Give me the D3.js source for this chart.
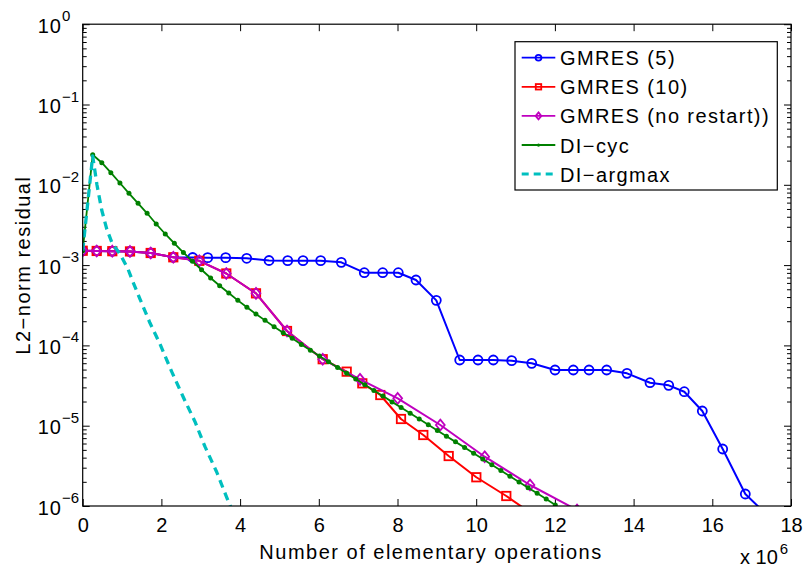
<!DOCTYPE html>
<html>
<head>
<meta charset="utf-8">
<script src="https://cdn.jsdelivr.net/npm/d3@7"></script>
<style>
  html, body { margin: 0; padding: 0; background: #fff; }
  svg { display: block; font-family: "Liberation Sans", Arial, sans-serif; }
</style>
</head>
<body>
<svg id="chart" width="805" height="571"></svg>
<script>
// ---------------- DATA (x in units of 10^6 operations) ----------------
const seriesNames = ["GMRES (5)", "GMRES (10)", "GMRES (no restart))", "DI\u2212cyc", "DI\u2212argmax"];
const seriesColors = ["#0000ff", "#ff0000", "#bf00bf", "#008000", "#00bfbf"];

const gm5X = [0, 0.356, 0.752, 1.202, 1.728, 2.302, 2.795, 3.177, 3.634, 4.168, 4.735, 5.210, 5.599, 6.048,
  6.572, 7.156, 7.624, 8.020, 8.470, 8.986, 9.581, 10.046, 10.435, 10.902, 11.411, 12.003, 12.468, 12.867,
  13.316, 13.832, 14.417, 14.892, 15.288, 15.746, 16.264, 16.839, 17.416];
const gm5Y = [1.51e-3, 1.50e-3, 1.49e-3, 1.48e-3, 1.415e-3, 1.251e-3, 1.244e-3, 1.238e-3, 1.238e-3, 1.216e-3,
  1.141e-3, 1.135e-3, 1.135e-3, 1.135e-3, 1.083e-3, 8.04e-4, 8.04e-4, 8.04e-4, 6.52e-4, 3.64e-4, 6.58e-5,
  6.58e-5, 6.58e-5, 6.45e-5, 5.98e-5, 4.94e-5, 4.94e-5, 4.94e-5, 4.94e-5, 4.49e-5, 3.43e-5, 3.18e-5,
  2.65e-5, 1.524e-5, 5.13e-6, 1.41e-6, 7.51e-7];

const gm10X = [0, 0.356, 0.752, 1.202, 1.728, 2.302, 2.963, 3.649, 4.404, 5.192, 6.099,
  6.709, 7.106, 7.563, 8.089, 8.656, 9.301, 10.003, 10.765, 11.571];
const gm10Y = [1.51e-3, 1.50e-3, 1.49e-3, 1.48e-3, 1.415e-3, 1.251e-3, 1.131e-3, 7.86e-4, 4.45e-4, 1.511e-4, 6.73e-5,
  4.71e-5, 3.37e-5, 2.41e-5, 1.212e-5, 7.66e-6, 4.19e-6, 2.28e-6, 1.332e-6, 7.09e-7];

const gmnrX = [0, 0.356, 0.752, 1.202, 1.728, 2.302, 2.963, 3.649, 4.404, 5.192, 6.099,
  7.047, 8.005, 9.088, 10.216, 11.367, 12.562];
const gmnrY = [1.51e-3, 1.50e-3, 1.49e-3, 1.48e-3, 1.415e-3, 1.251e-3, 1.131e-3, 7.86e-4, 4.45e-4, 1.511e-4, 6.73e-5,
  3.78e-5, 2.19e-5, 1.02e-5, 4.11e-6, 1.826e-6, 8.92e-7];

const dicycX = [0, 0.254, 0.485, 0.715, 0.946, 1.176, 1.407, 1.637, 1.868, 2.098, 2.329, 2.559, 2.790, 3.020,
  3.251, 3.481, 3.712, 3.942, 4.173, 4.403, 4.634, 4.864, 5.095, 5.325, 5.556, 5.786, 6.017, 6.247, 6.478,
  6.708, 6.939, 7.169, 7.400, 7.630, 7.861, 8.091, 8.322, 8.552, 8.783, 9.013, 9.244, 9.474, 9.705, 9.935,
  10.166, 10.396, 10.627, 10.857, 11.088, 11.318, 11.549, 11.779, 12.010];
const dicycY = [1.51e-3, 0.0237, 0.01884, 0.01415, 0.01053, 7.83e-3, 5.88e-3, 4.42e-3, 3.25e-3, 2.44e-3, 1.87e-3,
  1.435e-3, 1.115e-3, 8.76e-4, 6.91e-4, 5.54e-4, 4.49e-4, 3.64e-4, 2.98e-4, 2.46e-4, 2.05e-4, 1.71e-4,
  1.44e-4, 1.226e-4, 1.026e-4, 8.69e-5, 7.38e-5, 6.27e-5, 5.31e-5, 4.51e-5, 3.82e-5, 3.24e-5, 2.75e-5,
  2.34e-5, 1.98e-5, 1.68e-5, 1.43e-5, 1.21e-5, 1.03e-5, 8.73e-6, 7.41e-6, 6.29e-6, 5.34e-6, 4.53e-6,
  3.84e-6, 3.26e-6, 2.77e-6, 2.35e-6, 1.99e-6, 1.69e-6, 1.44e-6, 1.22e-6, 1.03e-6];

const diargX = [0, 0.254, 0.363, 0.483, 0.610, 0.745, 0.948, 1.151, 1.278, 1.456, 1.710, 1.964, 2.262, 2.557,
  2.854, 3.108, 3.405, 3.659, 3.794];
const diargY = [1.51e-3, 0.02284, 9.94e-3, 4.86e-3, 2.82e-3, 1.885e-3, 1.374e-3, 8.94e-4, 6.16e-4, 3.78e-4,
  1.90e-4, 1.041e-4, 4.71e-5, 2.26e-5, 1.121e-5, 5.48e-6, 2.65e-6, 1.283e-6, 8.92e-7];

const xTicks = [0, 2, 4, 6, 8, 10, 12, 14, 16, 18];
const yTickExps = [0, -1, -2, -3, -4, -5, -6];
const xLabel = "Number of elementary operations";
const yLabel = "L2\u2212norm residual";

// ---------------- CHART ----------------
const svg = d3.select("#chart");
const L = 82.7, R = 791, T = 24.2, B = 506;
const x = d3.scaleLinear().domain([0, 18]).range([L, R]);
const y = d3.scaleLog().domain([1e-6, 1]).range([B, T]);

const minorVals = [];
for (let e = -6; e < 0; e++) for (let m = 2; m <= 9; m++) minorVals.push(m * Math.pow(10, e));
const majorVals = yTickExps.map(e => Math.pow(10, e));

svg.append("defs").append("clipPath").attr("id", "clip")
  .append("rect").attr("x", L).attr("y", T).attr("width", R - L).attr("height", B - T);

function styleAxis(g) {
  g.select(".domain").remove();
  g.selectAll(".tick line").attr("stroke", "#000").attr("stroke-width", 1);
  g.selectAll("text").attr("fill", "#000");
}

svg.append("g").attr("transform", `translate(0,${B})`)
  .call(d3.axisBottom(x).tickValues(xTicks).tickFormat(d3.format("d")).tickSizeInner(-7).tickSizeOuter(0).tickPadding(12))
  .call(styleAxis)
  .selectAll("text").attr("font-size", 20).attr("font-family", "Liberation Sans, Arial, sans-serif");
svg.append("g").attr("transform", `translate(0,${T})`)
  .call(d3.axisTop(x).tickValues(xTicks).tickFormat("").tickSizeInner(-7).tickSizeOuter(0))
  .call(styleAxis);
svg.append("g").attr("transform", `translate(${L},0)`)
  .call(d3.axisLeft(y).tickValues(majorVals).tickFormat("").tickSizeInner(-7).tickSizeOuter(0))
  .call(styleAxis);
svg.append("g").attr("transform", `translate(${L},0)`)
  .call(d3.axisLeft(y).tickValues(minorVals).tickFormat("").tickSizeInner(-4).tickSizeOuter(0))
  .call(styleAxis);
svg.append("g").attr("transform", `translate(${R},0)`)
  .call(d3.axisRight(y).tickValues(majorVals).tickFormat("").tickSizeInner(-7).tickSizeOuter(0))
  .call(styleAxis);
svg.append("g").attr("transform", `translate(${R},0)`)
  .call(d3.axisRight(y).tickValues(minorVals).tickFormat("").tickSizeInner(-4).tickSizeOuter(0))
  .call(styleAxis);

const yl = svg.append("g").attr("font-size", 20).attr("fill", "#000");
yTickExps.forEach(e => {
  const t = yl.append("text").attr("x", 37.7).attr("y", y(Math.pow(10, e)) + 8.5).attr("letter-spacing", 1);
  t.append("tspan").text("10");
  t.append("tspan").attr("dy", -11.5).attr("font-size", 15).attr("letter-spacing", 0)
    .text(e === 0 ? "0" : "\u2212" + Math.abs(e));
});

svg.append("text").attr("x", 431).attr("y", 559).attr("text-anchor", "middle")
  .attr("font-size", 20).attr("letter-spacing", 1.5).text(xLabel);
svg.append("text").attr("transform", `translate(30,${(T + B) / 2}) rotate(-90)`).attr("text-anchor", "middle")
  .attr("font-size", 20).attr("letter-spacing", 1.5).text(yLabel);
const xm = svg.append("text").attr("x", 740).attr("y", 564).attr("font-size", 20);
xm.append("tspan").text("x 10");
xm.append("tspan").attr("dy", -10).attr("dx", 2).attr("font-size", 15).text("6");

// ---------------- SERIES ----------------
const series = [
  { xs: gm5X, ys: gm5Y, marker: "circle", width: 2 },
  { xs: gm10X, ys: gm10Y, marker: "square", width: 2 },
  { xs: gmnrX, ys: gmnrY, marker: "diamond", width: 2 },
  { xs: dicycX, ys: dicycY, marker: "dot", width: 1.8 },
  { xs: diargX, ys: diargY, marker: null, width: 3.3, dash: "8,5.5" }
];

const line = d3.line().x(d => x(d[0])).y(d => y(d[1]));

function drawMarker(g, type, cx, cy, color, scale) {
  const s = scale || 1;
  if (type === "circle") {
    g.append("circle").attr("cx", cx).attr("cy", cy).attr("r", 4.5 * s)
      .attr("fill", "none").attr("stroke", color).attr("stroke-width", 1.8);
  } else if (type === "square") {
    const h = 4.2 * s;
    g.append("rect").attr("x", cx - h).attr("y", cy - h).attr("width", 2 * h).attr("height", 2 * h)
      .attr("fill", "none").attr("stroke", color).attr("stroke-width", 1.8);
  } else if (type === "diamond") {
    const h = 5.4 * s, w = 4.4 * s;
    g.append("path").attr("d", `M${cx},${cy - h}L${cx + w},${cy}L${cx},${cy + h}L${cx - w},${cy}Z`)
      .attr("fill", "none").attr("stroke", color).attr("stroke-width", 1.8);
  } else if (type === "dot") {
    g.append("circle").attr("cx", cx).attr("cy", cy).attr("r", 2.5 * s).attr("fill", color);
  }
}

const plot = svg.append("g").attr("clip-path", "url(#clip)");
series.forEach((s, i) => {
  const pts = s.xs.map((v, k) => [v, s.ys[k]]);
  const g = plot.append("g");
  g.append("path").datum(pts).attr("d", line).attr("fill", "none")
    .attr("stroke", seriesColors[i]).attr("stroke-width", s.width)
    .attr("stroke-linejoin", "round")
    .attr("stroke-dasharray", s.dash || null);
  if (s.marker) pts.forEach(p => drawMarker(g, s.marker, x(p[0]), y(p[1]), seriesColors[i]));
});

svg.append("rect").attr("x", L).attr("y", T).attr("width", R - L).attr("height", B - T)
  .attr("fill", "none").attr("stroke", "#000").attr("stroke-width", 1.2);

// ---------------- LEGEND ----------------
const lg = svg.append("g");
lg.append("rect").attr("x", 515).attr("y", 41.7).attr("width", 262.3).attr("height", 148.3)
  .attr("fill", "#fff").attr("stroke", "#000").attr("stroke-width", 1.2);
seriesNames.forEach((name, i) => {
  const cy = 57.7 + i * 29.1;
  const s = series[i];
  lg.append("line").attr("x1", 521.7).attr("x2", 555.3).attr("y1", cy).attr("y2", cy)
    .attr("stroke", seriesColors[i]).attr("stroke-width", s.dash ? 3 : 1.8)
    .attr("stroke-dasharray", s.dash ? "7,5" : null);
  if (s.marker) drawMarker(lg, s.marker, 538.5, cy, seriesColors[i], 0.65);
  lg.append("text").attr("x", 560).attr("y", cy + 7.5).attr("font-size", 20)
    .attr("letter-spacing", 1.4).attr("fill", "#000").text(name);
});
</script>
</body>
</html>
